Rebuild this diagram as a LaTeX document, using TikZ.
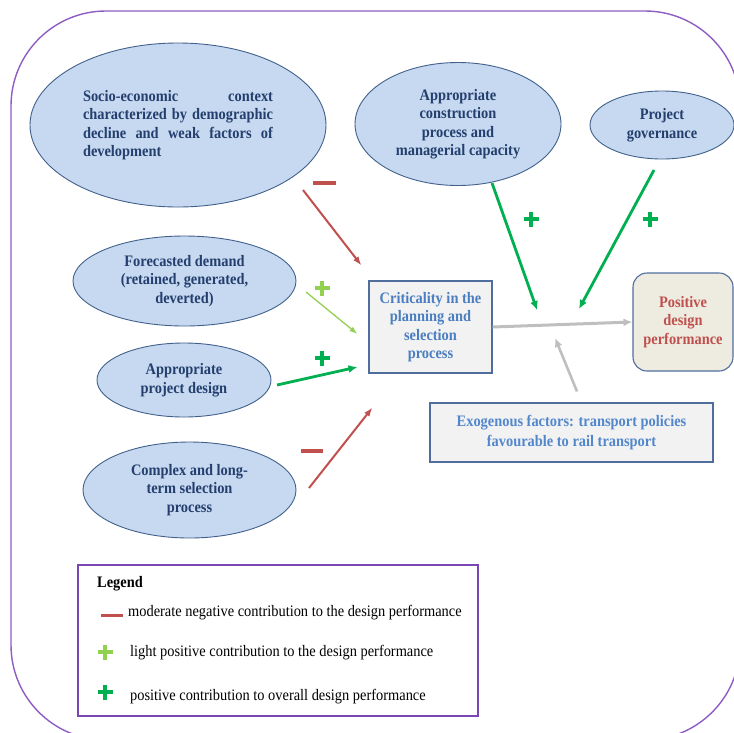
\documentclass[tikz,border=0pt]{standalone}
\usepackage{fontspec}
\setmainfont{Liberation Serif}
\newfontfamily\dfont{Liberation Serif}[FakeStretch=0.9]
\usetikzlibrary{arrows.meta,shapes.geometric,calc}

\definecolor{framepurple}{HTML}{8E5CC2}
\definecolor{legpurple}{HTML}{7A45B5}
\definecolor{ellfill}{HTML}{C6D9F0}
\definecolor{ellline}{HTML}{41618C}
\definecolor{elltext}{HTML}{243F6E}
\definecolor{boxfill}{HTML}{F2F2F2}
\definecolor{boxline}{HTML}{4F6E9E}
\definecolor{critblue}{HTML}{4A7EC0}
\definecolor{exoblue}{HTML}{5287CC}
\definecolor{posfill}{HTML}{EEECE1}
\definecolor{posred}{HTML}{C0504D}
\definecolor{negred}{HTML}{C0504D}
\definecolor{lightgr}{HTML}{92D050}
\definecolor{posgr}{HTML}{00B050}
\definecolor{grayar}{HTML}{BFBFBF}

\tikzset{
  ell/.style={ellipse, draw=ellline, fill=ellfill, line width=0.9pt, inner sep=0pt,
    text=elltext, align=center, font=\dfont\bfseries\fontsize{16}{18.5}\selectfont},
  bx/.style={rectangle, draw=boxline, fill=boxfill, line width=1.1pt, inner sep=0pt,
    align=center, font=\dfont\bfseries\fontsize{16}{18.5}\selectfont},
  legtext/.style={anchor=west, inner sep=0pt, text=black,
    font=\dfont\fontsize{16}{18}\selectfont},
  negarrow/.style={draw=negred, line width=2pt, -{Latex[length=9pt,width=6.5pt]}},
  lposarrow/.style={draw=lightgr, line width=1.3pt, -{Latex[length=8pt,width=5.5pt]}},
  posarrow/.style={draw=posgr, line width=2.8pt, -{Latex[length=9pt,width=8pt]}},
  grayarrow/.style={draw=grayar, line width=3pt, -{Latex[length=9pt,width=8pt]}},
  minusmark/.style={line width=3.5pt},
  plusmark/.pic={\draw[line width=3.8pt] (-7.5,0) -- (7.5,0) (0,-7.5) -- (0,7.5);},
}

\begin{document}
\begin{tikzpicture}[x=1pt,y=-1pt]
\useasboundingbox (0,0) rectangle (734,732);

% outer frame
\draw[framepurple, line width=1.4pt, rounded corners=95pt] (11,11) rectangle (740,740);

% factors
\node[ell, minimum width=296pt, minimum height=164pt] (soc) at (178,125)
  {\makebox[190pt][s]{Socio-economic context}\\
   \makebox[190pt][s]{characterized by demographic}\\
   \makebox[190pt][s]{decline and weak factors of}\\
   \makebox[190pt][l]{development}};
\node[ell, minimum width=206pt, minimum height=123pt] (con) at (458,124)
  {Appropriate\\construction\\process and\\managerial capacity};
\node[ell, minimum width=144pt, minimum height=68pt] (gov) at (662,125)
  {Project\\governance};
\node[ell, minimum width=223pt, minimum height=90pt] (fd) at (184.5,281)
  {Forecasted demand\\(retained, generated,\\deverted)};
\node[ell, minimum width=174pt, minimum height=74pt] (pd) at (184,380)
  {Appropriate\\project design};
\node[ell, minimum width=213pt, minimum height=96pt] (cx) at (189.5,490)
  {Complex and long-\\term selection\\process};

% central boxes
\node[bx, minimum width=123pt, minimum height=92pt, text=critblue] (crit) at (430.5,327)
  {Criticality in the\\planning and\\selection\\process};
\node[bx, rounded corners=14pt, fill=posfill, minimum width=100pt, minimum height=98pt,
  text=posred] (pos) at (683,322) {Positive\\design\\performance};
\node[bx, minimum width=283pt, minimum height=59pt, text=exoblue,
  font=\dfont\bfseries\fontsize{16}{20.5}\selectfont] (exo) at (571.5,432.5)
  {Exogenous factors: transport policies\\favourable to rail transport};

% main flow and joining points on it
\draw[grayarrow] (crit.east) --
  coordinate[pos=0.357] (jcon)
  coordinate[pos=0.409] (jexo)
  coordinate[pos=0.559] (jgov)
  (pos.west);

% contributions to the criticality box
\draw[negarrow] ([shift={(125,65)}]soc.center) -- ([shift={(-7,-15)}]crit.north west);
\draw[lposarrow] ([shift={(121.5,11)}]fd.center) -- ([shift={(-11,7)}]crit.west);
\draw[posarrow] ([shift={(93,5)}]pd.center) -- ([shift={(-11,40)}]crit.west);
\draw[negarrow] ([shift={(119.5,-2)}]cx.center) -- ([shift={(4,34)}]crit.south west);

% contributions to the flow
\draw[posarrow, shorten >=16pt] ([shift={(34,59)}]con.center) -- (jcon);
\draw[posarrow, shorten >=17.3pt] ([shift={(-8,45)}]gov.center) -- (jgov);
\draw[grayarrow, line width=2.6pt, shorten >=14pt] ([shift={(5.5,-11)}]exo.north) -- (jexo);

% signs
\draw[negred, minusmark] (313,183) -- (336,183);
\draw[negred, minusmark] (301,451) -- (323,451);
\path (322,288) pic[draw=lightgr] {plusmark};
\path (322,358) pic[draw=posgr] {plusmark};
\path (531,219) pic[draw=posgr] {plusmark};
\path (650,219) pic[draw=posgr] {plusmark};

% legend
\node[draw=legpurple, line width=1.6pt, minimum width=400pt, minimum height=151pt,
  inner sep=0pt] (leg) at (278,640.5) {};
\node[legtext, font=\dfont\bfseries\fontsize{16}{18}\selectfont] (legtitle) at (97,584) {Legend};
\node[legtext] (lneg) at (128,613) {moderate negative contribution to the design performance};
\node[legtext] (llight) at (130,653) {light positive contribution to the design performance};
\node[legtext] (lpos) at (130,697) {positive contribution to overall design performance};
\draw[negred, line width=3pt] (101,615) -- (123,615);
\path (105,652) pic[draw=lightgr] {plusmark};
\path (105,692) pic[draw=posgr] {plusmark};
\end{tikzpicture}
\end{document}
